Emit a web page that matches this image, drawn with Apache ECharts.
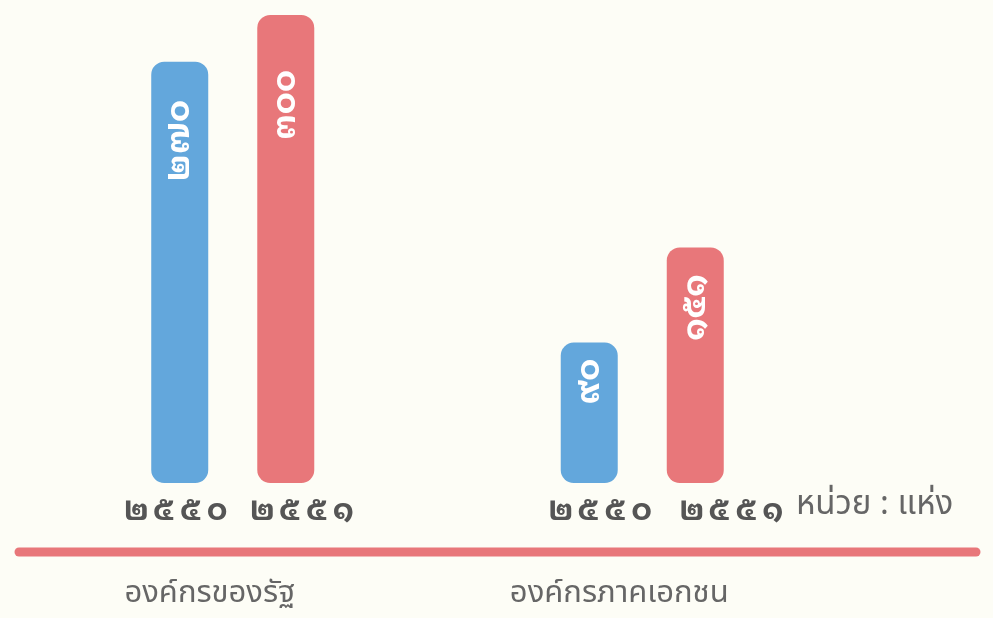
<!DOCTYPE html>
<html>
<head>
<meta charset="utf-8">
<title>องค์กรของรัฐ / องค์กรภาคเอกชน</title>
<script src="https://cdn.jsdelivr.net/npm/echarts@6/dist/echarts.min.js"></script>
<style>
  html, body { margin: 0; padding: 0; background: #fdfdf6; }
  #chart { width: 993px; height: 618px; }
</style>
</head>
<body>
<div id="chart"></div>
<script>
// Organisation groups along the x axis
const categories = ['องค์กรของรัฐ', 'องค์กรภาคเอกชน'];
// Buddhist-era years shown under each bar
const years = [2550, 2551];
// Counts per group (unit: แห่ง)
const values2550 = [270, 90];
const values2551 = [300, 151];
const unitText = 'หน่วย : แห่ง';

const BLUE = '#63a7dc';
const RED = '#e8777a';
// Plain Thai face for captions, looped face for numerals
const THAI_FONT = '"Noto Sans Thai", "Noto Sans", sans-serif';
const NUM_FONT = '"Noto Sans Thai Looped", "Noto Sans Thai", sans-serif';

// Convert Arabic digits to Thai digits
const thaiDigits = '๐๑๒๓๔๕๖๗๘๙';
function toThai(n) {
  return String(n).replace(/[0-9]/g, d => thaiDigits[+d]);
}
// Wrap each digit in a fixed-width rich-text token for slightly wider spacing
function spaced(str) {
  return str.split('').map(ch => '{d|' + ch + '}').join('');
}

const chart = echarts.init(document.getElementById('chart'), null, { renderer: 'canvas' });

// Horizontal nudges for the year captions under each bar
const yearOffsets = [[-3, 12], [17, 37]];
// Distance of each value label from its bar's top
const valueDistances = [[38, 16], [55, 27]];

function yearSeries(idx) {
  return {
    type: 'bar',
    name: 'year-' + years[idx],
    stack: 's' + idx,
    barWidth: 57,
    barGap: '86%',
    silent: true,
    data: categories.map((c, ci) => ({
      value: 0,
      label: { offset: [yearOffsets[idx][ci], 0] }
    })),
    itemStyle: { color: 'transparent' },
    label: {
      show: true,
      position: 'bottom',
      distance: 13,
      formatter: () => spaced(toThai(years[idx])),
      rich: {
        d: {
          width: 27,
          align: 'center',
          fontFamily: NUM_FONT,
          fontWeight: 'bold',
          fontSize: 31,
          color: '#555555'
        }
      }
    }
  };
}

function valueSeries(idx, values, color) {
  return {
    type: 'bar',
    name: String(years[idx]),
    stack: 's' + idx,
    barWidth: 57,
    barGap: '86%',
    data: values.map((v, ci) => ({
      value: v,
      label: { distance: valueDistances[idx][ci] }
    })),
    itemStyle: { color: color, borderRadius: 13 },
    label: {
      show: true,
      position: 'insideTop',
      rotate: 90,
      align: 'right',
      verticalAlign: 'middle',
      formatter: p => toThai(p.value),
      fontFamily: NUM_FONT,
      fontWeight: 'bold',
      fontSize: 33,
      color: '#ffffff'
    }
  };
}

chart.setOption({
  animation: false,
  backgroundColor: '#fdfdf6',
  grid: { left: 28, right: 146, top: 15, bottom: 135, containLabel: false },
  xAxis: {
    type: 'category',
    data: categories,
    axisLine: { show: false },
    axisTick: { show: false },
    axisLabel: {
      margin: 97,
      fontFamily: THAI_FONT,
      fontSize: 31,
      color: '#666666',
      padding: [0, 46, 0, 0]
    }
  },
  yAxis: {
    type: 'value',
    min: 0,
    max: 300,
    show: false
  },
  series: [
    yearSeries(0),
    valueSeries(0, values2550, BLUE),
    yearSeries(1),
    valueSeries(1, values2551, RED)
  ],
  graphic: [
    {
      type: 'line',
      shape: { x1: 19, y1: 552, x2: 976, y2: 552 },
      style: { stroke: RED, lineWidth: 9, lineCap: 'round' },
      silent: true
    },
    {
      type: 'text',
      left: 796,
      top: 491,
      style: {
        text: unitText,
        font: '33px ' + THAI_FONT,
        fill: '#666666'
      },
      silent: true
    }
  ]
});
</script>
</body>
</html>
